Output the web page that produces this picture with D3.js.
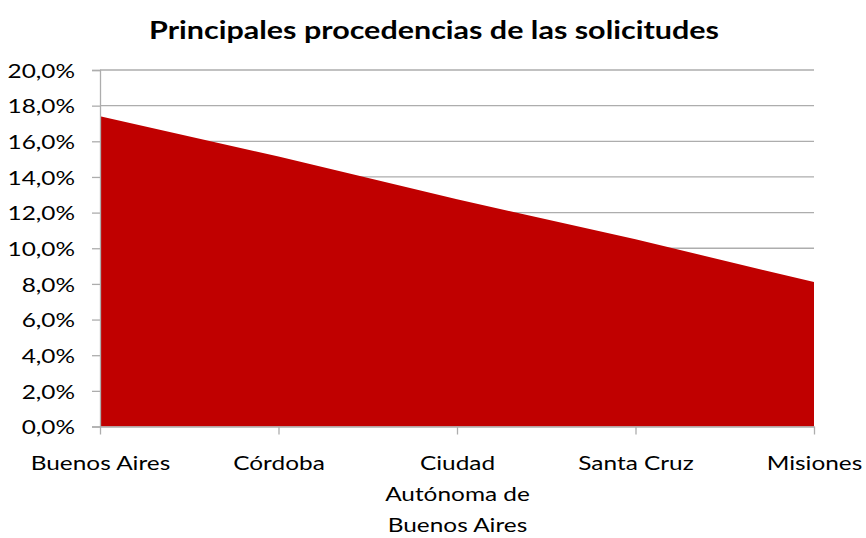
<!DOCTYPE html>
<html>
<head>
<meta charset="utf-8">
<script src="https://cdn.jsdelivr.net/npm/d3@7"></script>
<style>
  body { margin: 0; background: #fff; }
  text { font-family: Lato, "Open Sans", sans-serif; fill: #000; }
</style>
</head>
<body>
<svg id="chart"></svg>
<script>
// data
var categories = ['Buenos Aires', 'Córdoba', 'Ciudad Autónoma de Buenos Aires', 'Santa Cruz', 'Misiones'];
var shares = [0.174, 0.1515, 0.1275, 0.105, 0.081];
var yTicks = [0, 0.02, 0.04, 0.06, 0.08, 0.10, 0.12, 0.14, 0.16, 0.18, 0.20];
var chartTitle = 'Principales procedencias de las solicitudes';

var width = 866, height = 538;
var margin = {top: 70, right: 52, bottom: 111.5, left: 100};
var in_width = width - margin.left - margin.right;
var in_height = height - margin.top - margin.bottom;
var stretch = 1.22;   // the reference text is drawn wider than the installed fonts

var svg = d3.select('#chart').attr('width', width).attr('height', height);

//title
svg.append('g')
    .attr('transform', 'translate(434,39) scale(' + stretch + ',1)')
    .append('text')
    .attr('text-anchor', 'middle')
    .style('font-size', '25px')
    .style('font-weight', 'bold')
    .text(chartTitle);

var g = svg.append('g')
    .attr('transform', 'translate(' + margin.left + ',' + margin.top + ')');

var xScale = d3.scalePoint().domain(categories).range([0, in_width]);
var yScale = d3.scaleLinear().domain([0, 0.2]).range([in_height, 0]);

var fmt = function (d) { return (d * 100).toFixed(1).replace('.', ',') + '%'; };

// gridlines
g.append('g')
    .selectAll('line')
    .data(yTicks.slice(1))
    .enter().append('line')
    .attr('x1', 0).attr('x2', in_width)
    .attr('y1', function (d) { return yScale(d); })
    .attr('y2', function (d) { return yScale(d); })
    .attr('stroke', '#adadad')
    .attr('stroke-width', 1.3);

// area
var area = d3.area()
    .x(function (d, i) { return xScale(categories[i]); })
    .y0(in_height)
    .y1(function (d) { return yScale(d); });

g.append('path')
    .datum(shares)
    .attr('fill', '#c00000')
    .attr('d', area);

// y axis
var yAxisGroup = g.append('g')
    .call(d3.axisLeft(yScale).tickValues(yTicks).tickFormat(fmt).tickSize(8));
yAxisGroup.select('.domain').attr('stroke', '#adadad').attr('stroke-width', 1.3);
yAxisGroup.selectAll('.tick line').attr('stroke', '#adadad').attr('stroke-width', 1.3);
yAxisGroup.selectAll('text')
    .style('font-size', '20px')
    .attr('x', -25 / stretch)
    .attr('dy', '0.36em')
    .attr('transform', 'scale(' + stretch + ',1)');

// x axis
var xAxisGroup = g.append('g')
    .attr('transform', 'translate(0,' + in_height + ')')
    .call(d3.axisBottom(xScale).tickSize(8).tickSizeOuter(0));
xAxisGroup.select('.domain').attr('stroke', '#adadad').attr('stroke-width', 1.3);
xAxisGroup.selectAll('.tick line').attr('stroke', '#adadad').attr('stroke-width', 1.3);
xAxisGroup.selectAll('.tick text').remove();

// wrapped category labels
var labelLines = {
    'Ciudad Autónoma de Buenos Aires': ['Ciudad', 'Autónoma de', 'Buenos Aires']
};
xAxisGroup.selectAll('.tick')
    .append('text')
    .attr('text-anchor', 'middle')
    .attr('y', 44)
    .attr('transform', 'scale(' + stretch + ',1)')
    .style('font-size', '20px')
    .each(function (d) {
        var lines = labelLines[d] || [d];
        var t = d3.select(this);
        lines.forEach(function (line, i) {
            t.append('tspan').attr('x', 0).attr('dy', i === 0 ? 0 : 31).text(line);
        });
    });
</script>
</body>
</html>
